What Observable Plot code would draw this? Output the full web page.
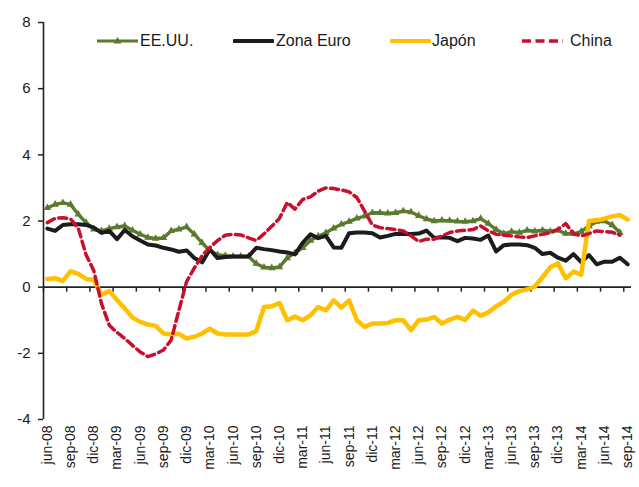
<!DOCTYPE html>
<html><head><meta charset="utf-8">
<script src="https://cdn.jsdelivr.net/npm/d3@7"></script>
<script src="https://cdn.jsdelivr.net/npm/@observablehq/plot@0.6"></script>
<style>
body{margin:0;background:#fff;}
#wrap{position:relative;width:639px;height:487px;font-family:"Liberation Sans",Arial,sans-serif;}
.leg{position:absolute;top:31px;height:20px;display:flex;align-items:center;font-size:16px;color:#1a1a1a;white-space:nowrap;}
.leg svg{display:block;}
</style></head><body><div id="wrap"></div>
<script>
// Monthly categories jun-08 .. sep-14 (76 months); labels every 3 months
const tickLabels = ["jun-08","sep-08","dic-08","mar-09","jun-09","sep-09","dic-09","mar-10","jun-10","sep-10","dic-10","mar-11","jun-11","sep-11","dic-11","mar-12","jun-12","sep-12","dic-12","mar-13","jun-13","sep-13","dic-13","mar-14","jun-14","sep-14"];
const seriesNames = ["EE.UU.","Zona Euro","Japón","China"];
const seriesColors = ["#5a7a2e","#1c1c1c","#ffc000","#c8102e"];
const yTicks = [-4,-2,0,2,4,6,8];

const usValues = [2.4,2.5,2.55,2.5,2.2,1.95,1.75,1.7,1.77,1.82,1.85,1.72,1.6,1.5,1.47,1.49,1.7,1.75,1.82,1.6,
  1.34,1.1,0.98,0.95,0.93,0.93,0.93,0.71,0.6,0.58,0.61,0.88,1.04,1.19,1.41,1.54,1.64,1.78,1.9,1.98,
  2.08,2.15,2.25,2.25,2.23,2.25,2.3,2.27,2.16,2.06,2.0,2.02,2.01,1.99,1.98,2.0,2.07,1.92,1.74,1.62,
  1.68,1.65,1.72,1.69,1.72,1.69,1.72,1.62,1.61,1.68,1.85,1.98,2.0,1.88,1.65];
const euroValues = [1.77,1.7,1.88,1.9,1.9,1.88,1.8,1.64,1.7,1.45,1.73,1.54,1.41,1.29,1.26,1.19,1.14,1.07,1.11,0.88,
  0.75,1.14,0.88,0.91,0.93,0.93,0.93,1.19,1.15,1.12,1.08,1.05,0.99,1.34,1.6,1.48,1.55,1.2,1.19,1.63,
  1.65,1.65,1.63,1.5,1.55,1.61,1.61,1.61,1.62,1.71,1.49,1.51,1.49,1.39,1.49,1.47,1.43,1.56,1.08,1.27,
  1.29,1.29,1.27,1.19,1.0,1.04,0.89,0.8,1.0,0.76,0.97,0.69,0.77,0.77,0.89,0.69];
const japanValues = [0.25,0.27,0.19,0.48,0.4,0.25,0.22,-0.23,-0.12,-0.39,-0.64,-0.92,-1.05,-1.13,-1.17,-1.4,-1.43,-1.41,-1.55,-1.5,
  -1.4,-1.25,-1.4,-1.43,-1.43,-1.43,-1.43,-1.33,-0.6,-0.58,-0.48,-1.0,-0.89,-1.0,-0.85,-0.6,-0.7,-0.4,-0.62,-0.4,
  -1.0,-1.2,-1.1,-1.1,-1.08,-1.0,-1.0,-1.3,-1.0,-0.98,-0.9,-1.1,-0.98,-0.9,-0.99,-0.71,-0.86,-0.76,-0.58,-0.44,
  -0.23,-0.12,-0.07,0.02,0.3,0.6,0.72,0.27,0.47,0.38,2.0,2.02,2.07,2.14,2.18,2.04];
const chinaValues = [1.95,2.08,2.1,2.06,1.78,0.98,0.5,-0.5,-1.15,-1.37,-1.55,-1.76,-1.96,-2.1,-2.02,-1.9,-1.6,-0.7,0.17,0.58,
  0.95,1.2,1.41,1.57,1.6,1.58,1.49,1.41,1.61,1.84,2.08,2.56,2.36,2.65,2.73,2.9,3.0,2.98,2.94,2.88,
  2.71,2.3,1.88,1.8,1.77,1.74,1.7,1.55,1.38,1.45,1.45,1.55,1.65,1.7,1.72,1.74,1.85,1.7,1.6,1.57,
  1.55,1.52,1.5,1.55,1.6,1.65,1.75,1.92,1.62,1.55,1.62,1.7,1.68,1.66,1.57];

const nCat = 76;
const rows = vals => vals.map((v, i) => ({i, v}));
const us = rows(usValues), euro = rows(euroValues), japan = rows(japanValues), china = rows(chinaValues);
const labelPos = tickLabels.map((_, k) => k * 3);
const tickBounds = tickLabels.map((_, k) => k * 3 - 0.5);

const W = 639, H = 487, mT = 22, mB = 68;
const tickLen = 5 * (yTicks[yTicks.length-1] - yTicks[0]) / (H - mT - mB);

const chart = Plot.plot({
  width: W, height: H,
  marginLeft: 43, marginRight: 8, marginTop: mT, marginBottom: mB,
  style: {fontFamily: "Liberation Sans, Arial, sans-serif", color: "#1a1a1a", background: "#fff"},
  x: {domain: [-0.5, nCat - 0.5]},
  y: {domain: [yTicks[0], yTicks[yTicks.length-1]]},
  marks: [
    Plot.axisY({ticks: yTicks, tickSize: 5, tickPadding: 8, tickFormat: d => String(d), fontSize: 15, strokeWidth: 1.5, stroke: "#222", label: null}),
    Plot.axisX({ticks: labelPos, tickFormat: i => tickLabels[i / 3], tickRotate: -90, tickSize: 0, tickPadding: 6, fontSize: 14, label: null}),
    Plot.ruleX([-0.5], {stroke: "#222", strokeWidth: 1.6}),
    Plot.ruleY([0], {stroke: "#222", strokeWidth: 1.6}),
    Plot.ruleX(tickBounds, {x: d => d, y1: () => 0, y2: () => -tickLen, stroke: "#222", strokeWidth: 1.5}),
    Plot.lineY(us, {x: "i", y: "v", stroke: seriesColors[0], strokeWidth: 3.4}),
    Plot.dot(us, {x: "i", y: "v", symbol: "triangle", r: 2.8, fill: seriesColors[0], stroke: "none"}),
    Plot.lineY(euro, {x: "i", y: "v", stroke: seriesColors[1], strokeWidth: 4}),
    Plot.lineY(japan, {x: "i", y: "v", stroke: seriesColors[2], strokeWidth: 4.5}),
    Plot.lineY(china, {x: "i", y: "v", stroke: seriesColors[3], strokeWidth: 3.5, strokeDasharray: "8,4.5"})
  ]
});
const wrap = document.getElementById("wrap");
wrap.appendChild(chart);

// Legend (overlaid at top of plot area)
const legX = [[97,140],[233,276],[390,432],[522,570]];
seriesNames.forEach((name, k) => {
  const sw = document.createElement("div");
  sw.className = "leg";
  sw.style.left = legX[k][0] + "px";
  let inner = "";
  if (k === 0) inner = `<line x1="0" y1="10" x2="41" y2="10" stroke="${seriesColors[0]}" stroke-width="3"/><path d="M20.5,6 L24.5,12.5 L16.5,12.5 Z" fill="${seriesColors[0]}"/>`;
  else if (k === 3) inner = `<line x1="0" y1="10" x2="41" y2="10" stroke="${seriesColors[3]}" stroke-width="3.5" stroke-dasharray="9,4.5"/>`;
  else inner = `<line x1="1.5" y1="10" x2="39.5" y2="10" stroke="${seriesColors[k]}" stroke-width="4" stroke-linecap="round"/>`;
  sw.innerHTML = `<svg width="41" height="20">${inner}</svg>`;
  wrap.appendChild(sw);
  const tx = document.createElement("div");
  tx.className = "leg";
  tx.style.left = legX[k][1] + "px";
  tx.textContent = name;
  wrap.appendChild(tx);
});
</script></body></html>
